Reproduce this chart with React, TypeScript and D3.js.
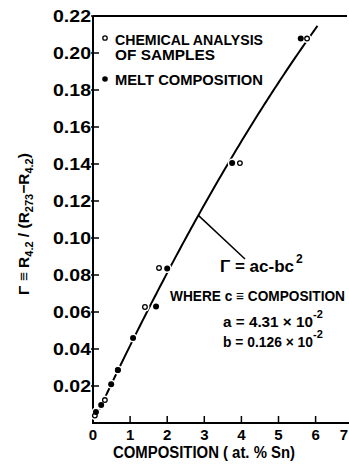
import * as d3 from 'd3';

// fitted curve  Γ = a·c − b·c²
const coefA = 4.31e-2;
const coefB = 0.126e-2;

const xTicks = [0, 1, 2, 3, 4, 5, 6, 7];
const yTicks = [0.02, 0.04, 0.06, 0.08, 0.1, 0.12, 0.14, 0.16, 0.18, 0.2, 0.22];

// chemical analysis of samples (open circles)
const chemComp = [0.05, 0.32, 0.67, 1.4, 1.78, 3.96, 5.77];
const chemGamma = [0.004, 0.0124, 0.0286, 0.0627, 0.0838, 0.1405, 0.2078];

// melt composition (filled dots)
const meltComp = [0.08, 0.22, 0.49, 0.67, 1.08, 1.7, 2.0, 3.75, 5.6];
const meltGamma = [0.006, 0.0097, 0.021, 0.0286, 0.046, 0.063, 0.0835, 0.1405, 0.2078];

const W = 349;
const H = 466;
const FONT = "'Liberation Sans', Arial, sans-serif";

export default function App() {
  const x = d3.scaleLinear().domain([0, 7]).range([93, 352.7]);
  const y = d3.scaleLinear().domain([0, 0.22]).range([423, 16]);

  const curveC = d3.range(0.1, 6.06, 0.05);
  const line = d3
    .line<number>()
    .x((c) => x(c))
    .y((c) => y(coefA * c - coefB * c * c));

  const chem = chemComp.map((c, i) => ({ c, g: chemGamma[i] }));
  const melt = meltComp.map((c, i) => ({ c, g: meltGamma[i] }));

  // pointer from the curve to the equation
  const pc = 2.84;
  const px0 = x(pc);
  const py0 = y(coefA * pc - coefB * pc * pc);

  return (
    <svg
      width={W}
      height={H}
      style={{ position: 'absolute', left: 0, top: 0, background: '#fff' }}
      fontFamily={FONT}
      fontWeight="bold"
    >
      <rect width={W} height={H} fill="#fff" />

      {/* frame */}
      <line x1={x(0)} x2={x(0)} y1={y(0.22)} y2={y(0) + 1} stroke="#000" strokeWidth={2} />
      <line x1={x(0)} x2={W} y1={y(0)} y2={y(0)} stroke="#000" strokeWidth={2} />
      <line x1={x(0)} x2={347} y1={y(0.22)} y2={y(0.22)} stroke="#000" strokeWidth={2} />

      {/* y ticks */}
      {yTicks.map((t) => (
        <g key={t}>
          <line x1={x(0) - 2} x2={x(0) + 6} y1={y(t)} y2={y(t)} stroke="#000" strokeWidth={1.5} />
          <text
            x={91}
            y={y(t)}
            dy="0.36em"
            textAnchor="end"
            fontSize={17}
            textLength={38}
            lengthAdjust="spacingAndGlyphs"
          >
            {t.toFixed(2)}
          </text>
        </g>
      ))}

      {/* x ticks */}
      {xTicks.map((t) => (
        <g key={t}>
          {t > 0 && (
            <line x1={x(t)} x2={x(t)} y1={y(0)} y2={y(0) - 7} stroke="#000" strokeWidth={1.5} />
          )}
          <text
            x={x(t) > W - 6 ? W - 1 : x(t)}
            y={440}
            textAnchor={x(t) > W - 6 ? 'end' : 'middle'}
            fontSize={15}
          >
            {t}
          </text>
        </g>
      ))}

      <text
        x={204}
        y={458}
        textAnchor="middle"
        fontSize={16}
        textLength={182}
        lengthAdjust="spacingAndGlyphs"
      >
        COMPOSITION ( at. % Sn)
      </text>

      {/* y axis title */}
      <text transform="translate(29,224) rotate(-90)" textAnchor="middle" fontSize={15.5}>
        Γ ≡ R<tspan fontSize={11} dy={4}>4.2</tspan>
        <tspan dy={-4}> / (R</tspan>
        <tspan fontSize={11} dy={4}>273</tspan>
        <tspan dy={-4}>−R</tspan>
        <tspan fontSize={11} dy={4}>4.2</tspan>
        <tspan dy={-4}>)</tspan>
      </text>

      {/* fitted curve */}
      <path d={line(curveC) ?? ''} fill="none" stroke="#000" strokeWidth={2} />

      {/* pointer */}
      <line x1={px0} y1={py0} x2={245} y2={259} stroke="#000" strokeWidth={1.5} />

      {/* data points with white halos */}
      {[...chem, ...melt].map((d, i) => (
        <circle key={'h' + i} cx={x(d.c)} cy={y(d.g)} r={4.5} fill="#fff" />
      ))}
      {melt.map((d, i) => (
        <circle key={'m' + i} cx={x(d.c)} cy={y(d.g)} r={3} fill="#000" />
      ))}
      {chem.map((d, i) => (
        <circle key={'c' + i} cx={x(d.c)} cy={y(d.g)} r={2.3} fill="none" stroke="#000" strokeWidth={1.3} />
      ))}

      {/* legend */}
      <circle cx={105} cy={38} r={2.2} fill="none" stroke="#000" strokeWidth={1.3} />
      <text x={115} y={45} fontSize={15} textLength={148} lengthAdjust="spacingAndGlyphs">
        CHEMICAL ANALYSIS
      </text>
      <text x={115} y={60} fontSize={15} textLength={100} lengthAdjust="spacingAndGlyphs">
        OF SAMPLES
      </text>
      <circle cx={105} cy={79} r={2.8} fill="#000" />
      <text x={115} y={85} fontSize={15} textLength={148} lengthAdjust="spacingAndGlyphs">
        MELT COMPOSITION
      </text>

      {/* equation */}
      <text x={220} y={272} fontSize={16} textLength={74} lengthAdjust="spacingAndGlyphs">
        Γ = ac-bc
      </text>
      <text x={296} y={263} fontSize={12}>
        2
      </text>
      <text x={170} y={301} fontSize={15} textLength={175} lengthAdjust="spacingAndGlyphs">
        WHERE c ≡ COMPOSITION
      </text>
      <text x={223} y={327} fontSize={15} textLength={90} lengthAdjust="spacingAndGlyphs">
        a = 4.31 × 10
      </text>
      <text x={313} y={318} fontSize={11}>
        -2
      </text>
      <text x={223} y={347} fontSize={15} textLength={90} lengthAdjust="spacingAndGlyphs">
        b = 0.126 × 10
      </text>
      <text x={313} y={338} fontSize={11}>
        -2
      </text>
    </svg>
  );
}
